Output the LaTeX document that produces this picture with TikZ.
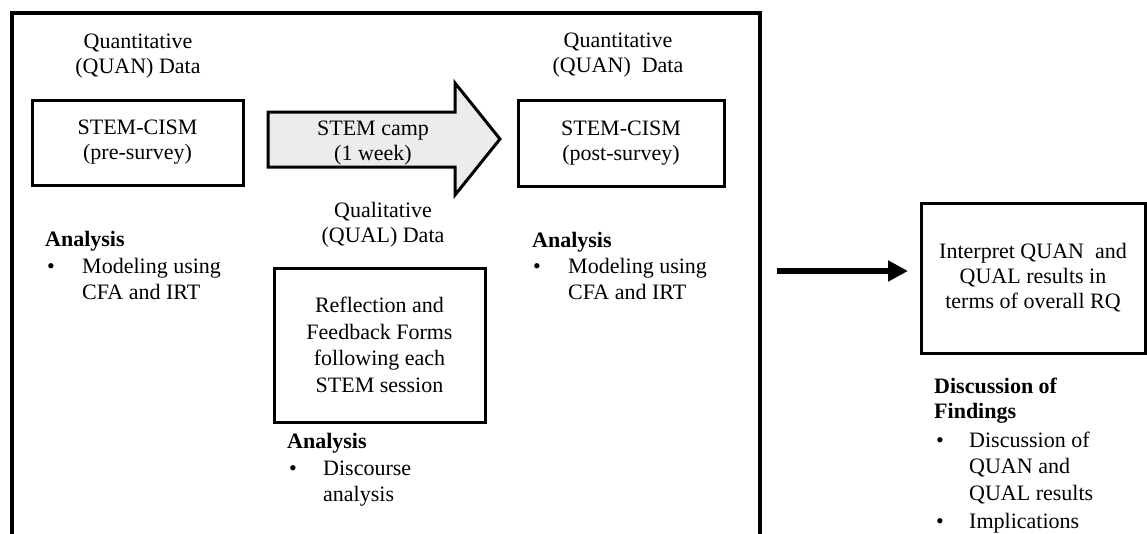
\documentclass[tikz,border=0pt]{standalone}
\usepackage{fontspec}
\setmainfont{Liberation Serif}
\usetikzlibrary{arrows.meta}

\tikzset{
  box/.style={draw, line width=3pt, align=center, inner sep=0pt},
  lbl/.style={align=center, inner sep=0pt, anchor=base},
  head/.style={align=left, inner sep=0pt, anchor=base west, font=\bfseries},
  item/.style={align=left, inner sep=0pt, anchor=base west, font=\fontsize{22}{26.5}\selectfont},
  dot/.style={inner sep=0pt, anchor=base west}
}

\begin{document}
\fontsize{22}{25}\selectfont
\begin{tikzpicture}[x=1pt, y=-1pt]
\clip (0,0) rectangle (1147,533);
\draw[line width=4pt] (12,13) rectangle (760,570);

\node[lbl] (quanA) at (138,73) {Quantitative\\(QUAN) Data};
\node[lbl] (quanB) at (618,72) {Quantitative\\(QUAN)~ Data};
\node[lbl] (qual) at (383,242) {Qualitative\\(QUAL) Data};

\node[box, minimum width=211pt, minimum height=85pt] (pre) at (137.5,142.5) {STEM-CISM\\(pre-survey)};
\node[box, minimum width=206pt, minimum height=86pt] (post) at (621,143) {STEM-CISM\\(post-survey)};
\node[box, minimum width=211pt, minimum height=154pt, font=\fontsize{22}{26.5}\selectfont] (refl) at (379.5,345) {Reflection and\\Feedback Forms\\following each\\STEM session};
\node[box, minimum width=224pt, minimum height=150pt] (interp) at (1033,278) {Interpret QUAN~ and\\QUAL results in\\terms of overall RQ};

\filldraw[line width=3pt, fill=gray!15] (268,112) -- (455,112) -- (455,83) -- (500,139) -- (455,195) -- (455,167) -- (268,167) -- cycle;
\node[lbl] (camp) at (373,160) {STEM camp\\(1 week)};

\node[head] (anaA) at (45,246) {Analysis};
\node[dot] (dotA) at (47,273) {\textbullet};
\node[item] (itemA) at (82,299.5) {Modeling using\\CFA and IRT};

\node[head] (anaB) at (532,247) {Analysis};
\node[dot] (dotB) at (533,273) {\textbullet};
\node[item] (itemB) at (568,299.5) {Modeling using\\CFA and IRT};

\node[head] (anaC) at (287,448) {Analysis};
\node[dot] (dotC) at (289,475) {\textbullet};
\node[item] (itemC) at (323,501.5) {Discourse\\analysis};

\node[head] (disc) at (934,418) {Discussion of\\Findings};
\node[dot] (dotD) at (936,447) {\textbullet};
\node[item] (itemD) at (969,500) {Discussion of\\QUAN and\\QUAL results};
\node[dot] (dotE) at (936,528) {\textbullet};
\node[item] (itemE) at (969,528) {Implications};

\coordinate (out) at (777,271);
\draw[line width=6pt, -{Triangle[length=20pt, width=20pt]}, shorten >=11.5pt] (out) -- (out -| interp.west);
\end{tikzpicture}
\end{document}
